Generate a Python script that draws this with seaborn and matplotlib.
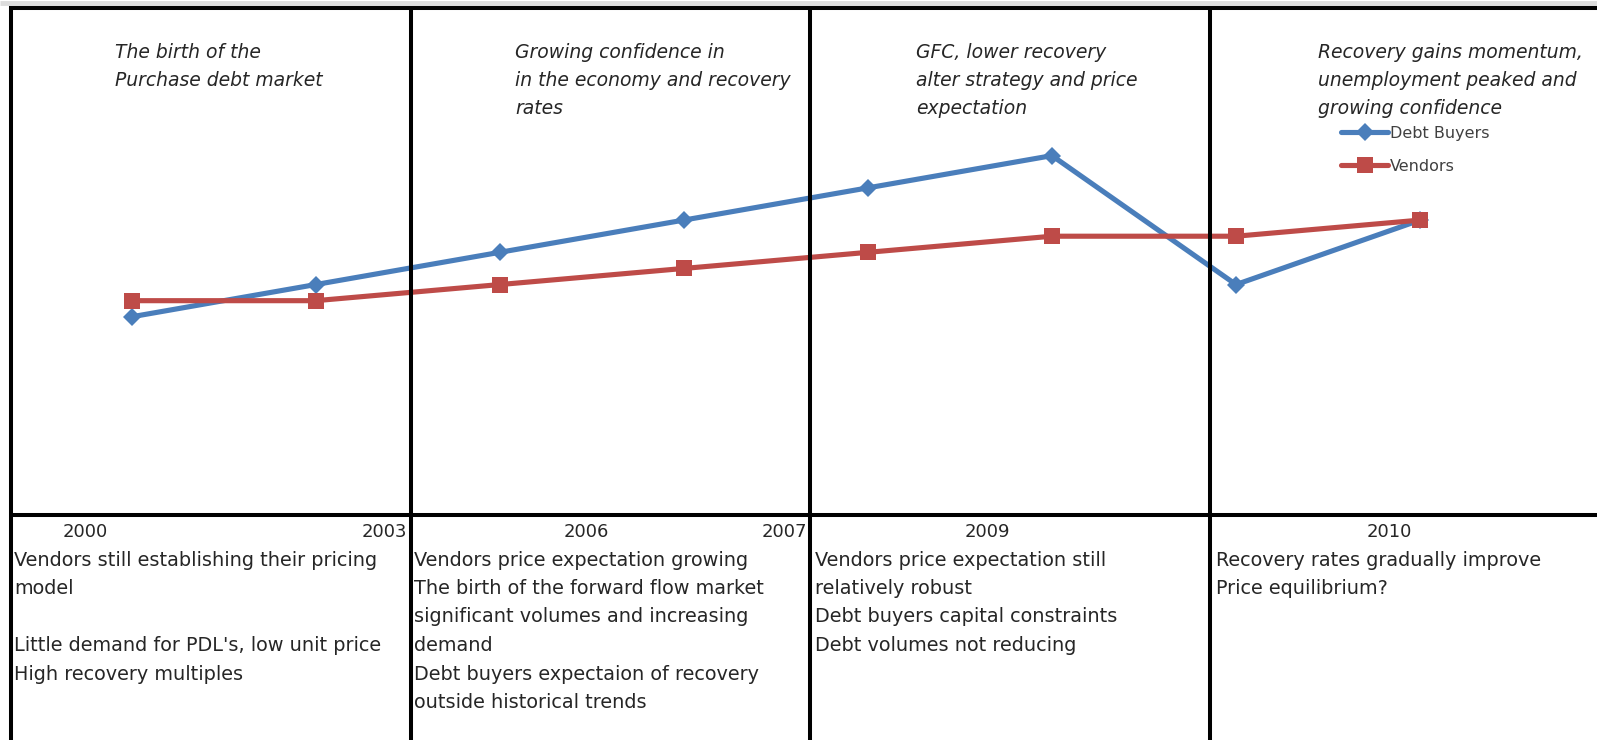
import matplotlib
matplotlib.use("Agg")
import matplotlib.pyplot as plt
from matplotlib.lines import Line2D
import seaborn as sns
import pandas as pd

# ---- data -------------------------------------------------------------
points = [1, 2, 3, 4, 5, 6, 7, 8]
debt_buyers = [6, 7, 8, 9, 10, 11, 7, 9]
vendors = [6.5, 6.5, 7, 7.5, 8, 8.5, 8.5, 9]

headers = [
    ["The birth of the", "Purchase debt market"],
    ["Growing confidence in", "in the economy and recovery", "rates"],
    ["GFC, lower recovery", "alter strategy and price", "expectation"],
    ["Recovery gains momentum,", "unemployment peaked and", "growing confidence"],
]

years = ["2000", "2003", "2006", "2007", "2009", "2010"]

notes = [
    ["Vendors still establishing their pricing", "model", "",
     "Little demand for PDL's, low unit price", "High recovery multiples"],
    ["Vendors price expectation growing", "The birth of the forward flow market",
     "significant volumes and increasing", "demand",
     "Debt buyers expectaion of recovery", "outside historical trends"],
    ["Vendors price expectation still", "relatively robust",
     "Debt buyers capital constraints", "Debt volumes not reducing"],
    ["Recovery rates gradually improve", "Price equilibrium?"],
]

df = pd.DataFrame({
    "point": points * 2,
    "value": debt_buyers + vendors,
    "series": ["Debt Buyers"] * len(points) + ["Vendors"] * len(points),
})

# ---- layout (pixel grid of the 1597 x 740 canvas) ------------------------
W, H = 1597, 740
def fx(x):
    return x / W
def fy(y):
    return 1 - y / H

BLUE = "#4A7EBB"
RED = "#BE4B48"
FONT = "DejaVu Sans"

sns.set_theme(style="white")
plt.rcParams["font.family"] = [FONT]

fig = plt.figure(figsize=(W / 100, H / 100), dpi=100)
fig.patch.set_facecolor("white")

top, left, mid = 8.0, 11.0, 515.0
ax = fig.add_axes([fx(left), fy(mid), 1 - fx(left), fy(top) - fy(mid)])
ax.set_facecolor("white")

sns.lineplot(data=df[df.series == "Debt Buyers"], x="point", y="value",
             color=BLUE, marker="D", markersize=9, markeredgewidth=0,
             linewidth=3.7, label="Debt Buyers", ax=ax)
sns.lineplot(data=df[df.series == "Vendors"], x="point", y="value",
             color=RED, marker="s", markersize=11, markeredgewidth=0,
             linewidth=3.7, label="Vendors", ax=ax)

ax.set_xlim(0.345, 8.961)
ax.set_ylim(-0.149, 15.58)
ax.set_xticks([])
ax.set_yticks([])
ax.set_xlabel("")
ax.set_ylabel("")
for s in ax.spines.values():
    s.set_visible(False)

leg = ax.legend(loc="upper left", bbox_to_anchor=(fx(1341), fy(126)),
                bbox_transform=fig.transFigure, frameon=False, borderpad=0,
                borderaxespad=0, handlelength=2.95, handletextpad=0.12,
                labelspacing=1.1, prop={"family": FONT, "size": 11.5})
for t in leg.get_texts():
    t.set_color("#404040")

# ---- grid lines --------------------------------------------------------
LW = 2.9
def fig_line(xs, ys, color="black", lw=LW):
    fig.add_artist(Line2D([fx(x) for x in xs], [fy(y) for y in ys],
                          transform=fig.transFigure, color=color, lw=lw,
                          solid_capstyle="butt"))

fig_line([0, W], [2.5, 2.5], color="#dcdcdc", lw=3.5)
fig_line([left - 2, W], [top, top])
fig_line([left - 2, W], [mid, mid])
fig_line([left, left], [top - 2, H])
for xv in [411, 810, 1210]:
    fig_line([xv, xv], [top - 2, H])

# ---- period headers ----------------------------------------------------
header_x = [115, 515, 916, 1318]
for hx, lines in zip(header_x, headers):
    for i, line in enumerate(lines):
        fig.text(fx(hx), fy(52 + 28 * i), line, ha="left", va="center",
                 fontsize=13.5, style="italic", color="#262626", family=FONT)

# ---- year labels -------------------------------------------------------
year_pos = [(85, "center"), (407, "right"), (586, "center"),
            (807, "right"), (987, "center"), (1389, "center")]
for label, (yx, ha) in zip(years, year_pos):
    fig.text(fx(yx), fy(532), label, ha=ha, va="center", fontsize=13,
             color="#262626", family=FONT)

# ---- notes -------------------------------------------------------------
note_x = [14, 414, 815, 1216]
for nx, lines in zip(note_x, notes):
    for i, line in enumerate(lines):
        if line:
            fig.text(fx(nx), fy(560 + 28.5 * i), line, ha="left", va="center",
                     fontsize=13.9, color="#262626", family=FONT)

fig.savefig("out.png", dpi=100, facecolor="white")
